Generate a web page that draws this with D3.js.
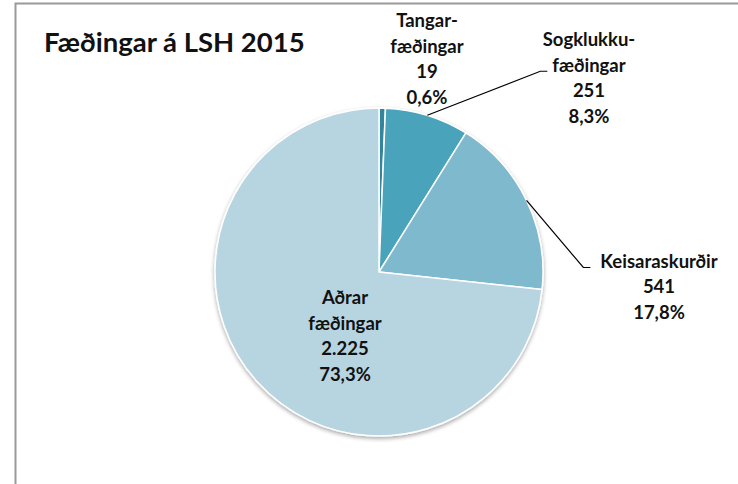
<!DOCTYPE html>
<html>
<head>
<meta charset="utf-8">
<script src="https://cdn.jsdelivr.net/npm/d3@7"></script>
<style>
  html, body { margin: 0; padding: 0; background: #fff; }
  svg { display: block; }
  text { font-family: Lato, "Open Sans", sans-serif; font-weight: bold; fill: #111; }
</style>
</head>
<body>
<svg id="chart" width="738" height="484"></svg>
<script>
// data
var categories = ["Tangarfæðingar", "Sogklukkufæðingar", "Keisaraskurðir", "Aðrar fæðingar"];
var counts = [19, 251, 541, 2225];
var countLabels = ["19", "251", "541", "2.225"];
var percentLabels = ["0,6%", "8,3%", "17,8%", "73,3%"];
var nameLines = [["Tangar-", "fæðingar"], ["Sogklukku-", "fæðingar"], ["Keisaraskurðir"], ["Aðrar", "fæðingar"]];
var colors = ["#31859c", "#4aa3ba", "#7eb9ce", "#b7d5e0"];

// label layout (offset of label centre from pie centre, and whether a leader line is drawn)
var labelOffsets = [[48, -213], [210, -194], [280, 15], [-34, 64]];
var hasLeader = [false, true, true, false];

var width = 738, height = 484;
var cx = 379, cy = 272, radius = 164;
var lineH = 25.5;

var svg = d3.select("#chart");

// chart frame
svg.append("path")
    .attr("d", "M15.5," + height + "V3.5H" + width)
    .attr("fill", "none")
    .attr("stroke", "#9a9a9a")
    .attr("stroke-width", 2);

svg.append("text")
    .attr("x", 44)
    .attr("y", 52)
    .style("font-size", "27.5px")
    .text("Fæðingar á LSH 2015");

var defs = svg.append("defs");
var f = defs.append("filter").attr("id", "shadow")
    .attr("x", "-10%").attr("y", "-10%").attr("width", "120%").attr("height", "120%");
f.append("feGaussianBlur").attr("in", "SourceAlpha").attr("stdDeviation", 2);
f.append("feOffset").attr("dx", 0).attr("dy", 1.5).attr("result", "b");
f.append("feComponentTransfer").append("feFuncA").attr("type", "linear").attr("slope", 0.35);
var fm = f.append("feMerge");
fm.append("feMergeNode");
fm.append("feMergeNode").attr("in", "SourceGraphic");

var pie = d3.pie().sort(null).value(function(d) { return d; });
var arcs = pie(counts);
var arc = d3.arc().innerRadius(0).outerRadius(radius);

var g = svg.append("g").attr("transform", "translate(" + cx + "," + cy + ")");

g.append("g").attr("filter", "url(#shadow)")
    .selectAll("path")
    .data(arcs)
    .enter().append("path")
    .attr("d", arc)
    .attr("fill", function(d, i) { return colors[i]; })
    .attr("stroke", "#fff")
    .attr("stroke-width", 1.5)
    .attr("stroke-linejoin", "round");

var leaders = g.append("g");

// data labels
arcs.forEach(function(d, i) {
    var lines = nameLines[i].concat([countLabels[i], percentLabels[i]]);
    var top = labelOffsets[i][1] - (lines.length - 1) * lineH / 2;
    var t = g.append("text")
        .attr("text-anchor", "middle")
        .style("font-size", "18.5px");
    var spans = [];
    lines.forEach(function(s, k) {
        spans.push(t.append("tspan")
            .attr("x", labelOffsets[i][0])
            .attr("y", top + k * lineH)
            .attr("dy", "0.35em")
            .text(s));
    });
    if (!hasLeader[i]) return;
    // leader line from the slice edge to the name line nearest the pie
    var k = nameLines[i].length - 1;
    var w = spans[k].node().getComputedTextLength();
    var elbowX = labelOffsets[i][0] - w / 2 - (k > 0 ? 5 : 10);
    var elbowY = top + k * lineH + 6;
    var mid = (d.startAngle + d.endAngle) / 2;
    var x0 = Math.sin(mid) * radius, y0 = -Math.cos(mid) * radius;
    leaders.append("path")
        .attr("d", "M" + x0 + "," + y0 + "L" + (elbowX - 7) + "," + elbowY + "H" + elbowX)
        .attr("fill", "none")
        .attr("stroke", "#000")
        .attr("stroke-width", 1.2);
});
</script>
</body>
</html>
